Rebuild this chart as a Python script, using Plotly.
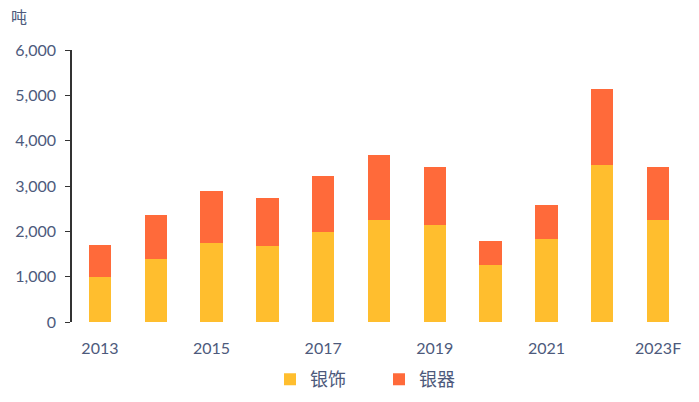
import plotly.graph_objects as go

years = ['2013', '2014', '2015', '2016', '2017', '2018', '2019', '2020', '2021', '2022', '2023F']
jewelry = [990, 1400, 1750, 1670, 1985, 2260, 2130, 1260, 1820, 3460, 2260]
silverware_total = [1690, 2350, 2890, 2730, 3230, 3680, 3410, 1790, 2580, 5130, 3410]
silverware = [t - j for t, j in zip(silverware_total, jewelry)]
shown_ticks = ['2013', '2015', '2017', '2019', '2021', '2023F']

text_color = '#4d5a7c'

fig = go.Figure()
fig.add_trace(go.Bar(x=years, y=jewelry, name='银饰', marker_color='#FFBE2E',
                     marker_line_width=0, width=0.4))
fig.add_trace(go.Bar(x=years, y=silverware, name='银器', marker_color='#FF6A3A',
                     marker_line_width=0, width=0.4))

# page body has an 8px margin, so the figure is sized to fit inside the window
fig.update_layout(
    barmode='stack',
    width=691, height=394,
    margin=dict(l=64, r=13, t=42, b=80, autoexpand=False),
    plot_bgcolor='white', paper_bgcolor='white',
    font=dict(family='Lato, "Noto Sans CJK SC"', size=16, color=text_color),
    showlegend=True,
    legend=dict(orientation='h', x=0.5, xanchor='center', yref='container',
                y=0.01, yanchor='bottom', font=dict(size=18), traceorder='normal',
                entrywidth=64, itemwidth=30),
    annotations=[dict(text='吨', xref='paper', yref='paper', x=-0.103, y=1.08,
                      xanchor='left', yanchor='bottom', showarrow=False,
                      font=dict(size=16, color=text_color))],
)
fig.update_xaxes(type='category', tickvals=shown_ticks, ticktext=shown_ticks,
                 range=[-0.5, 10.5], showline=False, showgrid=False,
                 ticks='outside', ticklen=12, tickcolor='rgba(0,0,0,0)',
                 tickfont=dict(size=16))
fig.update_yaxes(range=[0, 6000], dtick=1000, tickformat=',', showgrid=False,
                 showline=True, linecolor='#333333', linewidth=1.5,
                 ticks='outside', ticklen=5, tickcolor='#333333',
                 ticklabelstandoff=6, tickfont=dict(size=16), zeroline=False)

fig.write_html("out.html")
